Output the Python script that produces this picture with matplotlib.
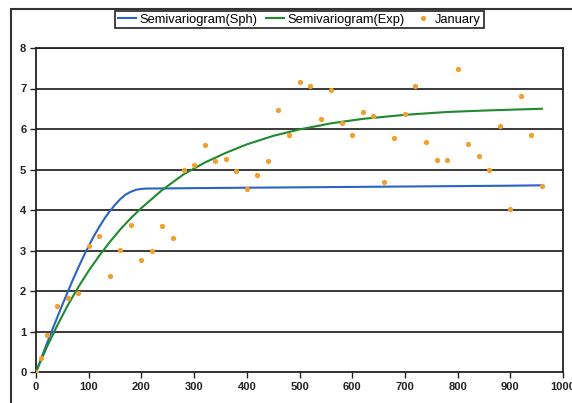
import matplotlib.pyplot as plt
from matplotlib.patches import Rectangle

# January semivariance estimates (lag distance, semivariance)
lag = [0, 10, 20, 40, 60, 80, 100, 120, 140, 160, 180, 200, 220, 240, 260,
       280, 300, 320, 340, 360, 380, 400, 420, 440, 460, 480, 500, 520, 540,
       560, 580, 600, 620, 640, 660, 680, 700, 720, 740, 760, 780, 800, 820,
       840, 860, 880, 900, 920, 940, 960]
january = [0.0, 0.35, 0.92, 1.63, 1.82, 1.95, 3.12, 3.37, 2.38, 3.02, 3.64,
           2.76, 3.0, 3.6, 3.31, 4.98, 5.1, 5.6, 5.2, 5.25, 4.97, 4.52, 4.86,
           5.2, 6.46, 5.86, 7.16, 7.06, 6.25, 6.96, 6.14, 5.86, 6.41, 6.33,
           4.7, 5.77, 6.37, 7.07, 5.68, 5.23, 5.23, 7.48, 5.64, 5.34, 5.0,
           6.07, 4.02, 6.82, 5.85, 4.6]

# spherical model curve
sph_lag = [0, 10, 20, 30, 40, 50, 60, 70, 80, 90, 100, 110, 120, 130, 140,
           150, 160, 170, 180, 190, 200, 210, 220, 300, 400, 500, 600, 700,
           800, 900, 960]
sph_val = [0.0, 0.34, 0.68, 1.01, 1.34, 1.66, 1.97, 2.28, 2.57, 2.85, 3.11,
           3.36, 3.58, 3.79, 3.97, 4.13, 4.27, 4.38, 4.45, 4.50, 4.52, 4.53,
           4.53, 4.54, 4.55, 4.56, 4.57, 4.58, 4.59, 4.60, 4.61]

# exponential model curve
exp_lag = [0, 20, 40, 60, 80, 100, 120, 140, 160, 180, 200, 240, 280, 320,
           360, 400, 450, 500, 560, 620, 700, 780, 860, 960]
exp_val = [0.0, 0.60, 1.14, 1.64, 2.09, 2.50, 2.87, 3.21, 3.52, 3.80, 4.05,
           4.50, 4.88, 5.17, 5.41, 5.62, 5.83, 5.99, 6.14, 6.25, 6.35, 6.42,
           6.46, 6.50]

plt.rcParams['font.family'] = ['Liberation Sans', 'DejaVu Sans']

fig = plt.figure(figsize=(5.72, 4.03), dpi=100)
ax = fig.add_axes([36 / 572, 1 - 372 / 403, 527 / 572, 324 / 403])

# outer chart border
fig.patches.append(Rectangle((11 / 572, -0.02), 0.99, 1 - 9 / 403 + 0.02,
                             transform=fig.transFigure, fill=False,
                             edgecolor='#333333', linewidth=1.5))

for yv in range(1, 9):
    ax.axhline(yv, color='#2a2a2a', linewidth=1.3, zorder=1)

ax.plot(sph_lag, sph_val, color='#2a62c8', linewidth=1.5, zorder=3,
        label='Semivariogram(Sph)')
ax.plot(exp_lag, exp_val, color='#1f8a2e', linewidth=1.5, zorder=3,
        label='Semivariogram(Exp)')
ax.plot(lag, january, 'o', color='#f0a030', markersize=3.8,
        markeredgewidth=0, zorder=4, label='January')

ax.set_xlim(0, 1000)
ax.set_ylim(0, 8)
ax.set_xticks(range(0, 1001, 100))
ax.set_yticks(range(0, 9))
ax.tick_params(labelsize=8, colors='#222222', length=4, width=1, pad=3)
for lab in ax.get_xticklabels() + ax.get_yticklabels():
    lab.set_fontweight('bold')
for s in ax.spines.values():
    s.set_color('#222222')
    s.set_linewidth(1.3)

leg = fig.legend(loc='upper center', bbox_to_anchor=(299.5 / 572, 1 - 11 / 403),
                 ncol=3, fontsize=9.3, frameon=True, fancybox=False,
                 edgecolor='#222222', framealpha=1, borderpad=0.2,
                 handlelength=1.4, handletextpad=0.25, columnspacing=0.7,
                 borderaxespad=0)
leg.get_frame().set_linewidth(1.2)

fig.savefig('out.png', dpi=100)
